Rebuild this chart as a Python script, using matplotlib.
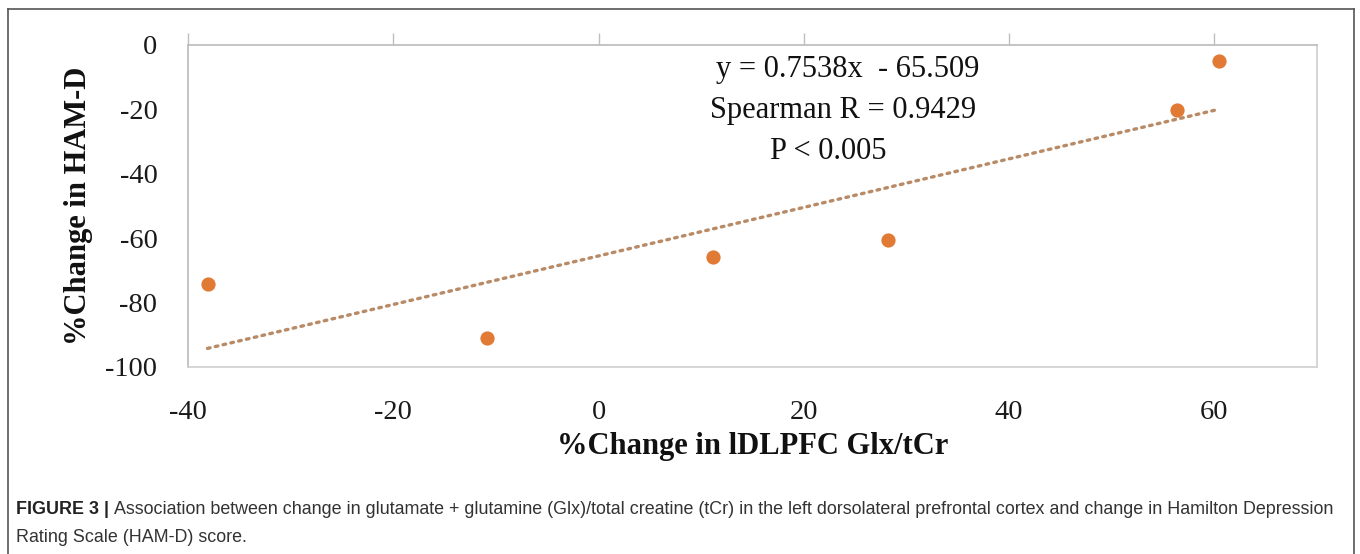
import matplotlib
matplotlib.use("Agg")
import matplotlib.pyplot as plt
from matplotlib.lines import Line2D
import numpy as np

# data
glx_change = [-38.1, -10.9, 11.2, 28.2, 56.4, 60.5]
hamd_change = [-74.1, -90.9, -65.9, -60.6, -20.3, -5.0]
slope = 0.7538
intercept = -65.509
spearman_r = 0.9429
p_text = "P < 0.005"

x_ticks = [-40, -20, 0, 20, 40, 60]
y_ticks = [0, -20, -40, -60, -80, -100]

point_color = "#E07A35"
trend_color = "#B88A66"
axis_gray = "#BFBFBF"
serif = "Liberation Serif"

fig = plt.figure(figsize=(13.6, 5.54), dpi=100)
W, H = 1360, 554

# plot area, in pixels of the final image
left, right, top, bottom = 188, 1317, 45, 367
ax = fig.add_axes([left / W, 1 - bottom / H, (right - left) / W, (bottom - top) / H])

ax.scatter(glx_change, hamd_change, s=105, color=point_color, zorder=3, linewidths=0)

xs = np.array([min(glx_change), max(glx_change)])
ax.plot(xs, slope * xs + intercept, color=trend_color, lw=2.4,
        linestyle=(0, (0.8, 1.6)), dash_capstyle="round", zorder=2)

ax.set_xlim(-40, 70)
ax.set_ylim(-100, 0)
ax.set_xticks(x_ticks)
ax.set_yticks(y_ticks)
ax.set_xticklabels([str(v) for v in x_ticks])
ax.set_yticklabels([str(v) for v in y_ticks])

ax.tick_params(axis="x", top=True, bottom=False, labeltop=False, labelbottom=True,
               direction="out", length=8.5, width=1, color=axis_gray, pad=15,
               labelsize=20.5)
ax.tick_params(axis="y", left=False, length=0, pad=22, labelsize=20.5)
for lab in ax.get_xticklabels() + ax.get_yticklabels():
    lab.set_fontfamily(serif)
    lab.set_color("#1a1a1a")

for side in ["top", "left"]:
    ax.spines[side].set_color(axis_gray)
    ax.spines[side].set_linewidth(1.3)
for side in ["bottom", "right"]:
    ax.spines[side].set_color("#D2D2D2")
    ax.spines[side].set_linewidth(1.3)

ax.set_xlabel("%Change in lDLPFC Glx/tCr", fontfamily=serif, fontweight="bold",
              fontsize=22, labelpad=5, color="#111111")
ax.set_ylabel("%Change in HAM-D", fontfamily=serif, fontweight="bold",
              fontsize=22, labelpad=9, color="#111111")

ax.text(0.584, 0.925, f"y = {slope}x  - {abs(intercept)}", transform=ax.transAxes,
        ha="center", va="center", fontfamily=serif, fontsize=22, color="#111111")
ax.text(0.580, 0.796, f"Spearman R = {spearman_r}", transform=ax.transAxes,
        ha="center", va="center", fontfamily=serif, fontsize=22, color="#111111")
ax.text(0.567, 0.668, p_text, transform=ax.transAxes,
        ha="center", va="center", fontfamily=serif, fontsize=22, color="#111111")

# outer frame of the figure panel
frame_kw = dict(color="#555555", lw=1.2, transform=fig.transFigure)
fig.add_artist(Line2D([8 / W, 1354 / W], [1 - 9 / H, 1 - 9 / H], **frame_kw))
fig.add_artist(Line2D([8 / W, 8 / W], [0, 1 - 9 / H], **frame_kw))
fig.add_artist(Line2D([1354 / W, 1354 / W], [0, 1 - 9 / H], **frame_kw))

# caption
cap_font = "Liberation Sans"
cap_size = 12.9
bold_part = fig.text(16 / W, 1 - 510 / H, "FIGURE 3 |", fontfamily=cap_font,
                     fontweight="bold", fontsize=cap_size, color="#222222", va="center")
fig.canvas.draw()
renderer = fig.canvas.get_renderer()
bb = bold_part.get_window_extent(renderer)
fig.text(bb.x1 / W + 5 / W, 1 - 510 / H,
         "Association between change in glutamate + glutamine (Glx)/total creatine (tCr) "
         "in the left dorsolateral prefrontal cortex and change in Hamilton Depression",
         fontfamily=cap_font, fontsize=cap_size, color="#333333", va="center")
fig.text(16 / W, 1 - 537 / H, "Rating Scale (HAM-D) score.", fontfamily=cap_font,
         fontsize=cap_size, color="#333333", va="center")

fig.savefig("out.png", dpi=100)
